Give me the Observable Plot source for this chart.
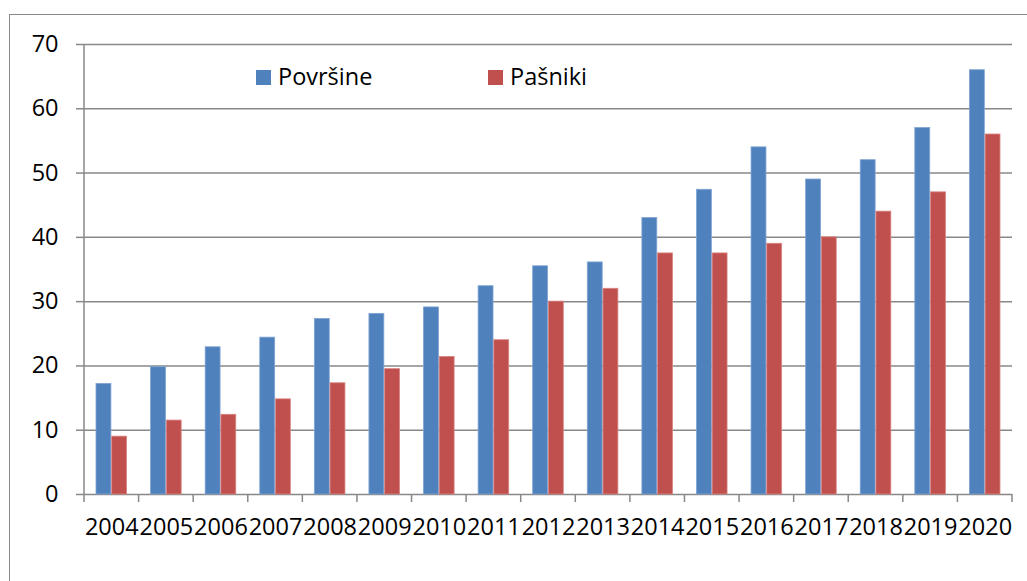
<!DOCTYPE html>
<html><head><meta charset="utf-8">
<script src="https://cdn.jsdelivr.net/npm/d3@7"></script>
<script src="https://cdn.jsdelivr.net/npm/@observablehq/plot@0.6"></script>
<style>
body{margin:0;background:#fff;font-family:"Open Sans",sans-serif;}
#wrap{position:relative;width:1027px;height:581px;overflow:hidden;background:#fff;}
#border{position:absolute;left:9px;top:14px;width:1100px;height:700px;border:1.5px solid #8a8a8a;}
#chart{position:absolute;left:0;top:0;}
</style></head><body>
<div id="wrap"><div id="border"></div><div id="chart"></div></div>
<script>
const years = ["2004","2005","2006","2007","2008","2009","2010","2011","2012","2013","2014","2015","2016","2017","2018","2019","2020"];
const povrsine = [17.2,19.8,22.9,24.4,27.3,28.1,29.1,32.4,35.5,36.1,43,47.4,54,49,52,57,66];
const pasniki = [9,11.5,12.4,14.8,17.3,19.5,21.4,24,30,32,37.5,37.5,39,40,44,47,56];
const yTicks = [0,10,20,30,40,50,60,70];
const seriesNames = ["Površine","Pašniki"];
const colors = ["#4F81BD","#C0504D"];
const borders = ["#7FA3D3","#D98583"];

const W=1027,H=581,mL=84,mR=15,mT=44,mB=87;
const padInner=0.425;
const step=(W-mL-mR)/years.length;
const half=step*(1-padInner)/2;
const grid="#888";
const fs = 23.5;
const data1 = years.map((y,i)=>({year:y, value:povrsine[i]}));
const data2 = years.map((y,i)=>({year:y, value:pasniki[i]}));

const chart = Plot.plot({
  width:W,height:H,marginLeft:mL,marginRight:mR,marginTop:mT,marginBottom:mB,
  style:{fontFamily:'"Open Sans", sans-serif', fontSize:fs+"px", color:"#000", background:"transparent", overflow:"visible"},
  x:{type:"band",domain:years,paddingInner:padInner,paddingOuter:padInner/2,round:false,label:null},
  y:{domain:[0,70],label:null},
  marks:[
    Plot.ruleY(yTicks,{stroke:grid,strokeWidth:1.5}),
    Plot.barY(data1,{x:"year",y:"value",fill:colors[0],stroke:borders[0],strokeWidth:0.8,insetLeft:0.4,insetRight:half+0.4}),
    Plot.barY(data2,{x:"year",y:"value",fill:colors[1],stroke:borders[1],strokeWidth:0.8,insetLeft:half+0.4,insetRight:0.4}),
    Plot.axisY({ticks:yTicks,tickSize:8,tickPadding:18,stroke:grid,strokeWidth:1.5,fill:"#000",fontSize:fs,label:null}),
    Plot.axisX({tickSize:0,tickPadding:24,fill:"#000",fontSize:fs,label:null})
  ]
});
document.getElementById("chart").appendChild(chart);

const xs = chart.scale("x"), ys = chart.scale("y");
const y0 = ys.apply(0), yTop = ys.apply(70);
const st = xs.step || step, bw = xs.bandwidth || step*(1-padInner);
const gap = st - bw;
const bounds = years.map(y=>xs.apply(y)-gap/2);
bounds.push(xs.apply(years[years.length-1])+bw+gap/2);
const svg = d3.select(chart);
const g = svg.append("g").attr("stroke",grid).attr("stroke-width",1.5);
bounds.forEach(b=>g.append("line").attr("x1",b).attr("x2",b).attr("y1",y0).attr("y2",y0+8));
g.append("line").attr("x1",bounds[0]).attr("x2",bounds[0]).attr("y1",yTop).attr("y2",y0);

// legend
const leg = svg.append("g").attr("font-family",'"Open Sans", sans-serif').attr("font-size",fs).attr("text-anchor","start");
const legX = [256,488];
seriesNames.forEach((n,i)=>{
  leg.append("rect").attr("x",legX[i]).attr("y",70).attr("width",15).attr("height",15).attr("fill",colors[i]);
  leg.append("text").attr("x",legX[i]+22).attr("y",85).attr("fill","#000").attr("text-anchor","start").text(n);
});
</script>
</body></html>
